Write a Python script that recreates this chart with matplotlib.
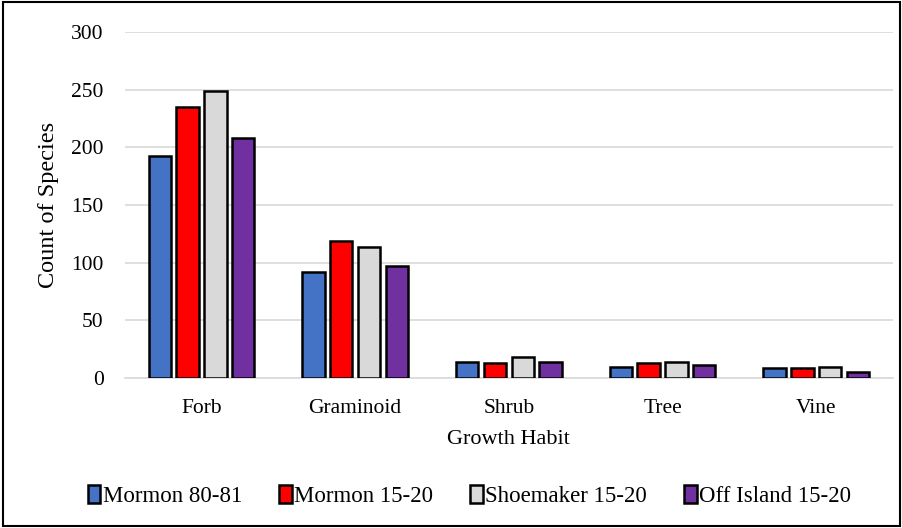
import matplotlib.pyplot as plt
import numpy as np
from matplotlib.patches import Rectangle

categories = ["Forb", "Graminoid", "Shrub", "Tree", "Vine"]
series_names = ["Mormon 80-81", "Mormon 15-20", "Shoemaker 15-20", "Off Island 15-20"]
mormon_80_81 = [193, 92, 14, 10, 9]
mormon_15_20 = [235, 119, 13, 13, 9]
shoemaker_15_20 = [249, 114, 18, 14, 10]
off_island_15_20 = [208, 97, 14, 11, 5]
colors = ["#4472C4", "#FF0000", "#D9D9D9", "#7030A0"]

plt.rcParams["font.family"] = ["Liberation Serif", "DejaVu Serif"]

fig = plt.figure(figsize=(9.03, 5.28), dpi=100)
ax = fig.add_axes([0.138, 0.284, 0.851, 0.655])

x = np.arange(len(categories))
width = 0.146
pitch = 0.181
all_series = [mormon_80_81, mormon_15_20, shoemaker_15_20, off_island_15_20]
for i, (name, vals) in enumerate(zip(series_names, all_series)):
    offset = (i - 1.5) * pitch
    ax.bar(x + offset, vals, width, color=colors[i], edgecolor="black",
           linewidth=1.8, label=name, zorder=3)

ax.set_xlim(-0.5, len(categories) - 0.5)
ax.set_ylim(0, 300)
ax.set_yticks(range(0, 301, 50))
ax.set_xticks(x)
ax.set_xticklabels(categories)
ax.tick_params(axis="both", length=0, labelsize=15.5, colors="black")
ax.tick_params(axis="y", pad=15)
ax.tick_params(axis="x", pad=15)
ax.grid(axis="y", color="#D9D9D9", linewidth=1.2, zorder=0)
for side in ["top", "right", "left"]:
    ax.spines[side].set_visible(False)
ax.spines["bottom"].set_color("#D9D9D9")
ax.spines["bottom"].set_linewidth(1.2)

ax.set_ylabel("Count of Species", fontsize=17.5, labelpad=9)
ax.set_xlabel("Growth Habit", fontsize=16, labelpad=9)

fig.legend(loc="center", bbox_to_anchor=(0.52, 0.06), ncol=4, frameon=False,
           fontsize=16.5, handlelength=0.55, handleheight=0.8, handletextpad=0.12,
           columnspacing=1.6)

fig.patches.append(Rectangle((0.003, 0.004), 0.994, 0.992, transform=fig.transFigure,
                             fill=False, edgecolor="black", linewidth=1.5))

fig.savefig("out.png", dpi=100)
